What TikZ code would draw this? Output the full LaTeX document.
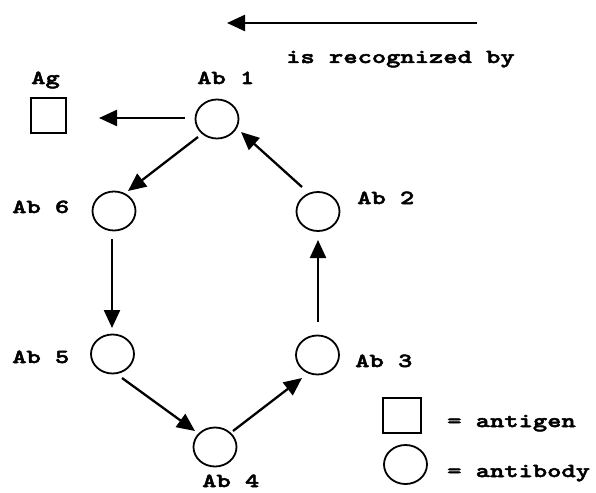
\documentclass[tikz,border=0pt]{standalone}
\usepackage{fontspec}
\newfontfamily\cour[FakeStretch=1.36,FakeBold=2.5]{lmmonolt10-bold.otf}
\usetikzlibrary{arrows.meta,shapes.geometric}
\tikzset{
  lbl/.style={inner sep=0pt, anchor=base west, font=\cour\fontsize{20}{23}\selectfont},
  ab/.style={draw, ellipse, line width=1.8pt, minimum width=43pt, minimum height=39pt, inner sep=0pt},
  ag/.style={draw, rectangle, line width=1.8pt, minimum width=35pt, minimum height=35pt, inner sep=0pt},
  arr/.style={line width=2.3pt, -{Triangle[length=18pt,width=16pt]}},
}
\begin{document}
\begin{tikzpicture}[x=1pt,y=-1pt]
\useasboundingbox (0,0) rectangle (596,492);
% top legend arrow
\coordinate (t1) at (477,23);
\coordinate (t0) at (227,23);
\draw[arr] (t1) -- (t0);
\node[lbl] (rec) at (286,63) {is recognized by};
% nodes
\node[ag] (ag) at (48.5,115.5) {};
\node[ab] (ab1) at (217,119) {};
\node[ab] (ab6) at (114,211) {};
\node[ab] (ab5) at (112.5,354) {};
\node[ab] (ab2) at (318,211.5) {};
\node[ab] (ab3) at (317.5,355) {};
\node[ab] (ab4) at (215,447) {};
% labels
\node[lbl] (lag) at (31,84) {Ag};
\node[lbl] (l1) at (197,84) {Ab 1};
\node[lbl] (l6) at (12,213) {Ab 6};
\node[lbl] (l5) at (12,363) {Ab 5};
\node[lbl] (l2) at (357,204) {Ab 2};
\node[lbl] (l3) at (355,367) {Ab 3};
\node[lbl] (l4) at (202,487) {Ab 4};
% arrows
\draw[arr] ([shift={(-32,-1)}]ab1.center) -- ([shift={(50.5,2.5)}]ag.center);
\draw[arr] ([shift={(-19,18)}]ab1.center) -- ([shift={(14,-20)}]ab6.center);
\draw[arr] ([shift={(-2,28)}]ab6.center) -- ([shift={(-0.5,-26)}]ab5.center);
\draw[arr] ([shift={(9.5,24)}]ab5.center) -- ([shift={(-20,-16)}]ab4.center);
\draw[arr] ([shift={(18,-16)}]ab4.center) -- ([shift={(-15.5,23)}]ab3.center);
\draw[arr] ([shift={(0.5,-33)}]ab3.center) -- ([shift={(0,28.5)}]ab2.center);
\draw[arr] ([shift={(-16,-24.5)}]ab2.center) -- ([shift={(24,13)}]ab1.center);
% legend
\node[ag, minimum width=38pt] (kag) at (402,415.5) {};
\node[ab] (kab) at (405.5,464.5) {};
\node[lbl] (kt1) at (447,427) {= antigen};
\node[lbl] (kt2) at (447,477) {= antibody};
\end{tikzpicture}
\end{document}
